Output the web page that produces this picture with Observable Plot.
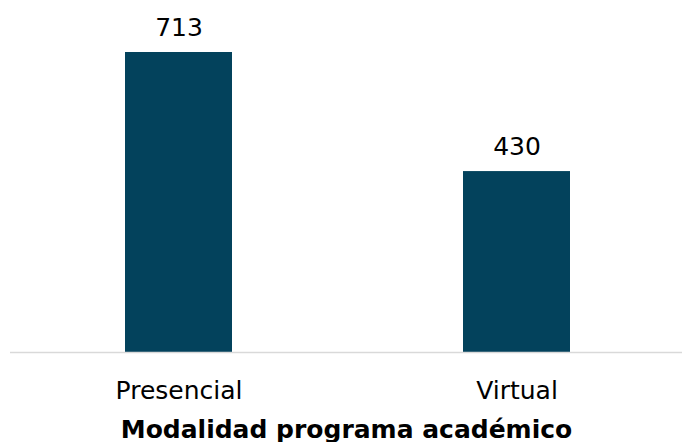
<!DOCTYPE html>
<html>
<head>
<meta charset="utf-8">
<script src="https://cdn.jsdelivr.net/npm/d3@7"></script>
<script src="https://cdn.jsdelivr.net/npm/@observablehq/plot@0.6"></script>
<style>
  html, body { margin: 0; padding: 0; background: #ffffff; }
  #chart svg { display: block; }
</style>
</head>
<body>
<div id="chart"></div>
<script>
const categories = ["Presencial", "Virtual"];
const values = [713, 430];
const axisTitle = "Modalidad programa académico";

const data = categories.map((c, i) => ({ modalidad: c, total: values[i] }));
const font = "DejaVu Sans, Verdana, sans-serif";

const chart = Plot.plot({
  width: 682,
  height: 442,
  marginLeft: 10,
  marginRight: 0,
  marginTop: 52,
  marginBottom: 90,
  style: { fontFamily: font, fontSize: "25px", color: "#000000", background: "#ffffff" },
  x: { type: "band", domain: categories, range: [10, 685], paddingInner: 0.683, paddingOuter: 0.34, label: null },
  y: { domain: [0, 713], axis: null },
  marks: [
    Plot.barY(data, { x: "modalidad", y: "total", fill: "#03425c" }),
    Plot.ruleY([0], { stroke: "#d9d9d9", strokeWidth: 1.5 }),
    Plot.text(data, {
      x: "modalidad", y: "total", text: d => String(d.total),
      dy: -17, lineAnchor: "bottom", fontSize: 25, fill: "#000000"
    }),
    Plot.axisX({ tickSize: 0, tickPadding: 29, fontSize: 25, label: null, color: "#000000" }),
    Plot.text([axisTitle], {
      frameAnchor: "bottom", lineAnchor: "bottom", dy: 85,
      fontSize: 25, fontWeight: "bold", fill: "#000000"
    })
  ]
});
document.getElementById("chart").append(chart);
</script>
</body>
</html>
